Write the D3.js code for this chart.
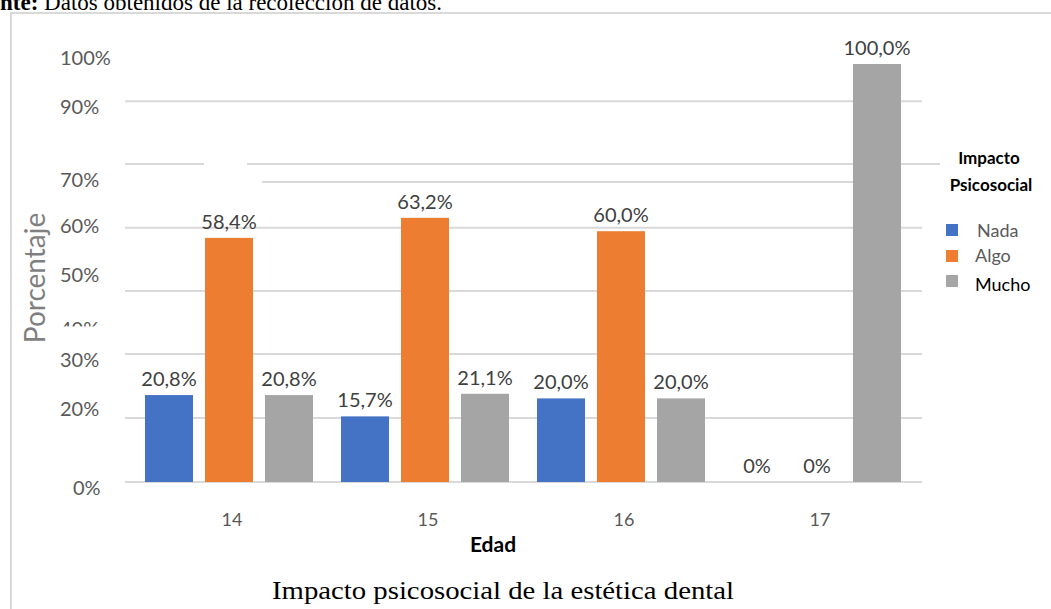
<!DOCTYPE html>
<html>
<head>
<meta charset="utf-8">
<script src="https://cdn.jsdelivr.net/npm/d3@7"></script>
<style>
  html, body { margin: 0; padding: 0; background: #fff; }
  svg { display: block; }
</style>
</head>
<body>
<svg id="chart" width="1051" height="609"></svg>
<script>
// ---- data ----
const categories = ["14", "15", "16", "17"];
const seriesNames = ["Nada", "Algo", "Mucho"];
const nadaValues = [20.8, 15.7, 20.0, 0];
const algoValues = [58.4, 63.2, 60.0, 0];
const muchoValues = [20.8, 21.1, 20.0, 100];
const yTickLabels = ["100%", "90%", "70%", "60%", "50%", "40%", "30%", "20%", "0%"];
// where each label sits on the value axis in the reference (labels are not evenly placed)
const yTickLabelAt = [101.4, 89.7, 72.2, 61.2, 49.5, 36.5, 29.2, 17.5, -1.4];
const gridValues = [15.3, 30.6, 45.7, 60.8, 76.1, 91.1];

const colors = { Nada: "#4472c4", Algo: "#ed7d31", Mucho: "#a5a5a5" };
const seriesValues = { Nada: nadaValues, Algo: algoValues, Mucho: muchoValues };

const svg = d3.select("#chart");
const font = "Lato, 'Open Sans', sans-serif";
const serif = "'Liberation Serif', 'Times New Roman', serif";

// chart border
svg.append("rect").attr("x", 11).attr("y", 13).attr("width", 1100).attr("height", 700)
  .attr("fill", "#fff").attr("stroke", "#d9d9d9").attr("stroke-width", 2);

// source line (cut at top, as in the reference)
const src = svg.append("text").attr("x", 0).attr("y", 10)
  .attr("font-family", serif).attr("font-size", 23).attr("fill", "#000");
src.append("tspan").attr("font-weight", "bold").text("nte:");
src.append("tspan").text(" Datos obtenidos de la recolección de datos.");

// scales
const y = d3.scaleLinear().domain([0, 100]).range([482, 64]);
const x0 = d3.scaleBand().domain(categories).range([131, 915]).padding(0);
const x1 = d3.scaleBand().domain(seriesNames).range([-90, 90]).paddingInner(0.2).paddingOuter(0.1);

const plotLeft = 125, plotRight = 922;

// gridlines
svg.append("g").selectAll("line").data(gridValues).join("line")
  .attr("x1", plotLeft).attr("x2", plotRight)
  .attr("y1", d => y(d)).attr("y2", d => y(d))
  .attr("stroke", "#d9d9d9").attr("stroke-width", 2);
// extra partial gridline (artifact in the reference)
svg.append("line").attr("x1", 262).attr("x2", 858)
  .attr("y1", y(71.8)).attr("y2", y(71.8))
  .attr("stroke", "#d9d9d9").attr("stroke-width", 2);
// gap in the upper gridline
svg.append("rect").attr("x", 204).attr("y", y(76.1) - 4).attr("width", 43).attr("height", 8).attr("fill", "#fff");
// baseline
svg.append("line").attr("x1", plotLeft).attr("x2", plotRight)
  .attr("y1", y(0)).attr("y2", y(0))
  .attr("stroke", "#d9d9d9").attr("stroke-width", 2);

// y tick labels
svg.append("g").selectAll("text").data(yTickLabels).join("text")
  .attr("x", d => d === "0%" ? 73 : 60).attr("y", (d, i) => y(yTickLabelAt[i])).attr("dy", "0.35em")
  .attr("font-family", font).attr("font-size", 20).attr("fill", "#595959")
  .text(d => d);
// partially hidden "40%" label
svg.append("rect").attr("x", 55).attr("y", y(36.5) - 3).attr("width", 60).attr("height", 16).attr("fill", "#fff");

// y axis title
svg.append("text").attr("transform", "translate(45,278) rotate(-90)")
  .attr("text-anchor", "middle")
  .attr("font-family", font).attr("font-size", 28).attr("fill", "#7f7f7f")
  .text("Porcentaje");

// bars
const fmt = v => v === 0 ? "0%" : d3.format(".1f")(v).replace(".", ",") + "%";
const groups = svg.append("g").selectAll("g").data(categories).join("g")
  .attr("transform", d => `translate(${x0(d) + x0.bandwidth() / 2},0)`);
const cells = (c, ci) => seriesNames.map(s => ({ s, v: seriesValues[s][ci] }));
groups.selectAll("rect").data(cells).join("rect")
  .attr("x", d => x1(d.s)).attr("width", x1.bandwidth())
  .attr("y", d => y(d.v)).attr("height", d => y(0) - y(d.v))
  .attr("fill", d => colors[d.s]);
groups.selectAll("text").data(cells).join("text")
  .attr("x", d => x1(d.s) + x1.bandwidth() / 2).attr("y", d => y(d.v) - 9)
  .attr("text-anchor", "middle")
  .attr("font-family", font).attr("font-size", 20).attr("fill", "#404040")
  .text(d => fmt(d.v));

// x tick labels
svg.append("g").selectAll("text").data(categories).join("text")
  .attr("x", d => x0(d) + x0.bandwidth() / 2 + 3).attr("y", 520).attr("dy", "0.35em")
  .attr("text-anchor", "middle")
  .attr("font-family", font).attr("font-size", 18).attr("fill", "#595959")
  .text(d => d);

// x axis title
svg.append("text").attr("x", 493).attr("y", 545).attr("dy", "0.35em")
  .attr("text-anchor", "middle")
  .attr("font-family", font).attr("font-size", 21).attr("font-weight", "bold").attr("fill", "#000")
  .text("Edad");

// caption
svg.append("text").attr("x", 272).attr("y", 590).attr("dy", "0.35em")
  .attr("textLength", 462).attr("lengthAdjust", "spacingAndGlyphs")
  .attr("font-family", serif).attr("font-size", 25).attr("fill", "#000")
  .text("Impacto psicosocial de la estética dental");

// legend
const legTitle = svg.append("text").attr("text-anchor", "middle")
  .attr("font-family", font).attr("font-size", 17).attr("font-weight", "bold").attr("fill", "#000");
legTitle.append("tspan").attr("x", 989).attr("y", 164).text("Impacto");
legTitle.append("tspan").attr("x", 991).attr("y", 191).text("Psicosocial");
svg.append("line").attr("x1", 913).attr("x2", 940).attr("y1", 164).attr("y2", 164)
  .attr("stroke", "#d9d9d9").attr("stroke-width", 2);

const legRows = [230, 256, 281];
const legTextY = [237, 262, 291];
const leg = svg.append("g").selectAll("g").data(seriesNames).join("g");
leg.append("rect").attr("x", 946).attr("y", (d, i) => legRows[i] - 6)
  .attr("width", 12).attr("height", 12).attr("fill", d => colors[d]);
leg.append("text").attr("x", (d, i) => i === 0 ? 977 : 975).attr("y", (d, i) => legTextY[i])
  .attr("font-family", font).attr("font-size", 18)
  .attr("fill", (d, i) => i === 2 ? "#000" : "#595959")
  .text(d => d);
</script>
</body>
</html>
